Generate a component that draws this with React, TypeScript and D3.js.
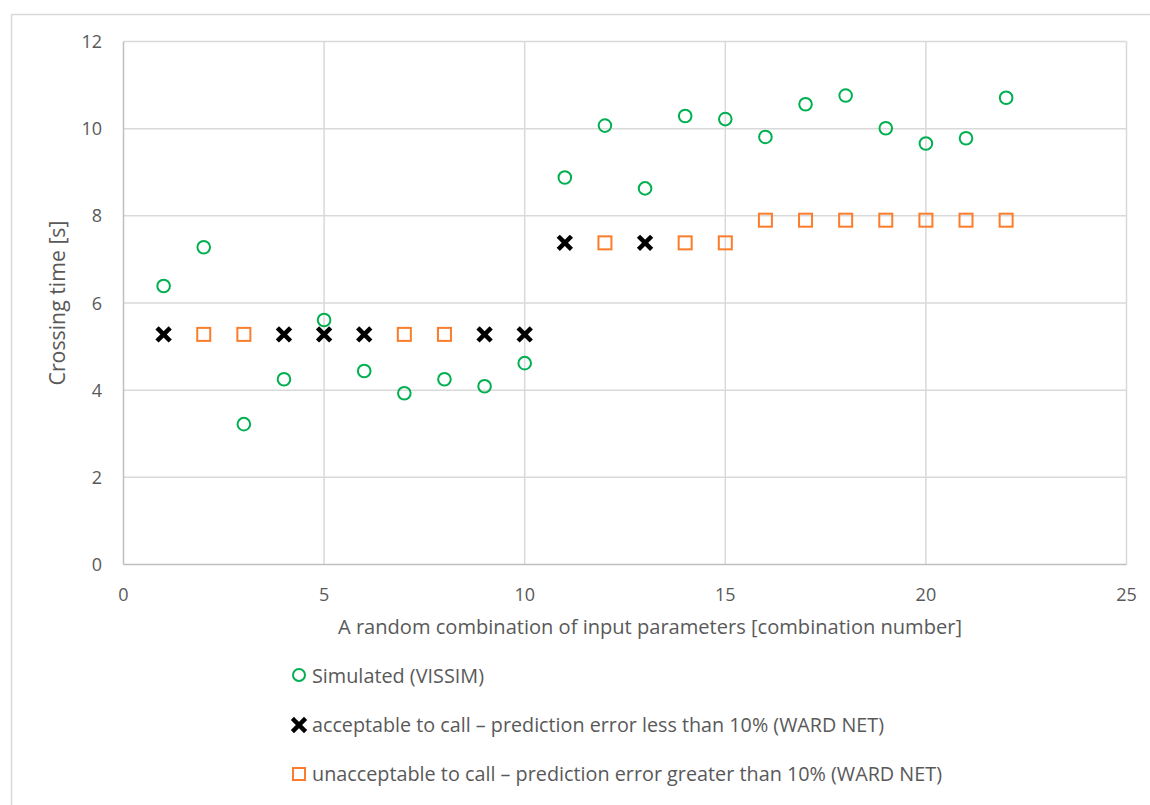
import React from "react";
import * as d3 from "d3";

const combos = [1,2,3,4,5,6,7,8,9,10,11,12,13,14,15,16,17,18,19,20,21,22];
const simulated = [6.39,7.28,3.22,4.25,5.61,4.44,3.93,4.25,4.09,4.62,8.88,10.07,8.63,10.29,10.22,9.81,10.56,10.76,10.01,9.66,9.78,10.71];
const predicted = [5.28,5.28,5.28,5.28,5.28,5.28,5.28,5.28,5.28,5.28,7.38,7.38,7.38,7.38,7.38,7.9,7.9,7.9,7.9,7.9,7.9,7.9];
const acceptable = [true,false,false,true,true,true,false,false,true,true,true,false,true,false,false,false,false,false,false,false,false,false];
const xTicks = [0,5,10,15,20,25];
const yTicks = [0,2,4,6,8,10,12];
const legendLabels = [
  "Simulated (VISSIM)",
  "acceptable to call – prediction error less than 10% (WARD NET)",
  "unacceptable to call – prediction error greater than 10% (WARD NET)",
];

const FONT = "'Open Sans', 'Liberation Sans', sans-serif";
const GREEN = "#00b050";
const ORANGE = "#fb7d2b";
const TXT = "#595959";

function Cross({ cx, cy, s = 5 }: { cx: number; cy: number; s?: number }) {
  return (
    <g stroke="#000" strokeWidth={4.5} strokeLinecap="square">
      <line x1={cx - s} y1={cy - s} x2={cx + s} y2={cy + s} />
      <line x1={cx - s} y1={cy + s} x2={cx + s} y2={cy - s} />
    </g>
  );
}

export default function App() {
  const x = d3.scaleLinear().domain([0, 25]).range([123.5, 1126.5]);
  const y = d3.scaleLinear().domain([0, 12]).range([564.5, 41.5]);

  return (
    <svg width={1150} height={805} style={{ position: "absolute", left: 0, top: 0, fontFamily: FONT }}>
      <rect x={0} y={0} width={1150} height={805} fill="#fff" />
      <rect x={11.5} y={14.5} width={1150} height={800} fill="none" stroke="#d9d9d9" strokeWidth={1.5} />
      {/* gridlines */}
      {xTicks.slice(1).map((t) => (
        <line key={"gx" + t} x1={x(t)} x2={x(t)} y1={y(12)} y2={y(0)} stroke="#d9d9d9" strokeWidth={1.5} />
      ))}
      {yTicks.slice(1).map((t) => (
        <line key={"gy" + t} x1={x(0)} x2={x(25)} y1={y(t)} y2={y(t)} stroke="#d9d9d9" strokeWidth={1.5} />
      ))}
      {/* axes */}
      <line x1={x(0)} x2={x(0)} y1={y(12)} y2={y(0)} stroke="#bfbfbf" strokeWidth={1.5} />
      <line x1={x(0)} x2={x(25)} y1={y(0)} y2={y(0)} stroke="#bfbfbf" strokeWidth={1.5} />
      {/* tick labels */}
      {xTicks.map((t) => (
        <text key={"tx" + t} x={x(t)} y={y(0) + 36} textAnchor="middle" fontSize={18} fill={TXT}>{t}</text>
      ))}
      {yTicks.map((t) => (
        <text key={"ty" + t} x={x(0) - 21.5} y={y(t) + 6.5} textAnchor="end" fontSize={18} fill={TXT}>{t}</text>
      ))}
      {/* axis titles */}
      <text x={650} y={634} textAnchor="middle" fontSize={20} fill={TXT}
        textLength={624} lengthAdjust="spacingAndGlyphs">
        A random combination of input parameters [combination number]
      </text>
      <text transform={`translate(65, ${(y(0) + y(12)) / 2}) rotate(-90)`} textAnchor="middle" fontSize={21} fill={TXT}
        textLength={165} lengthAdjust="spacingAndGlyphs">
        Crossing time [s]
      </text>
      {/* predictions */}
      {combos.map((c, i) =>
        acceptable[i] ? (
          <Cross key={"p" + c} cx={x(c)} cy={y(predicted[i])} />
        ) : (
          <rect key={"p" + c} x={x(c) - 6.5} y={y(predicted[i]) - 6.5} width={13} height={13} fill="none" stroke={ORANGE} strokeWidth={2} />
        )
      )}
      {/* simulated */}
      {combos.map((c, i) => (
        <circle key={"s" + c} cx={x(c)} cy={y(simulated[i])} r={6.3} fill="none" stroke={GREEN} strokeWidth={2} />
      ))}
      {/* legend */}
      <circle cx={299} cy={675} r={6} fill="none" stroke={GREEN} strokeWidth={2} />
      <text x={312} y={683} fontSize={19.5} fill={TXT} textLength={172} lengthAdjust="spacingAndGlyphs">{legendLabels[0]}</text>
      <Cross cx={299} cy={725} />
      <text x={312} y={732} fontSize={19.5} fill={TXT} textLength={572} lengthAdjust="spacingAndGlyphs">{legendLabels[1]}</text>
      <rect x={293} y={768} width={12} height={12} fill="none" stroke={ORANGE} strokeWidth={2} />
      <text x={312} y={781} fontSize={19.5} fill={TXT} textLength={630} lengthAdjust="spacingAndGlyphs">{legendLabels[2]}</text>
    </svg>
  );
}
